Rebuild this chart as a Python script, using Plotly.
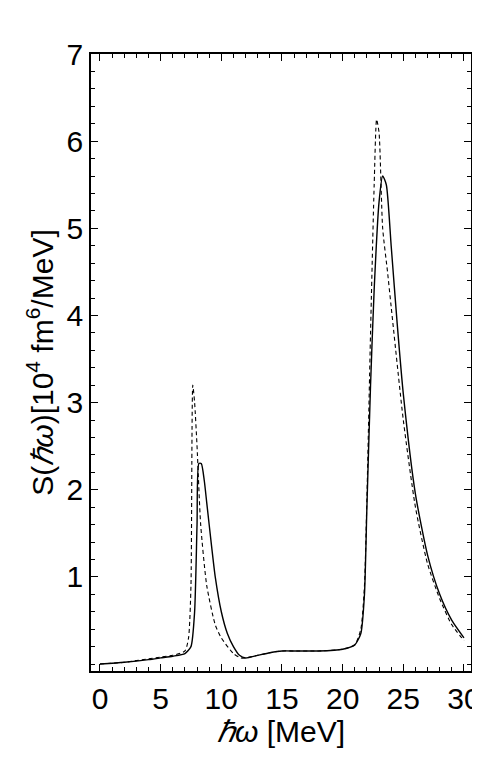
import plotly.graph_objects as go

# solid curve
x_solid = [0, 2, 4, 5, 6, 7, 7.5, 7.8, 8.0, 8.15, 8.35, 8.6, 8.8, 9.2, 9.5, 10, 10.5, 11, 11.5, 12, 13, 14, 15, 16, 18, 20, 21, 21.5, 21.8, 22.0, 22.3, 22.6, 23.0, 23.3, 23.6, 24.0, 24.5, 25, 26, 27, 28, 29, 30]
y_solid = [0, 0.02, 0.05, 0.07, 0.09, 0.12, 0.2, 0.6, 1.6, 2.3, 2.3, 2.1, 1.85, 1.35, 1.0, 0.6, 0.35, 0.2, 0.1, 0.07, 0.1, 0.13, 0.15, 0.15, 0.15, 0.17, 0.22, 0.35, 0.8, 1.8, 3.2, 4.3, 5.3, 5.6, 5.5, 4.8, 3.9, 3.1, 1.95, 1.25, 0.8, 0.5, 0.3]

# dashed curve
x_dash = [0, 2, 4, 5, 6, 7, 7.3, 7.5, 7.65, 7.8, 8.0, 8.3, 8.8, 9.5, 10, 11, 11.6, 12, 13, 14, 15, 16, 18, 20, 21, 21.5, 21.8, 22.0, 22.3, 22.6, 22.8, 23.0, 23.3, 23.7, 24.0, 25, 26, 27, 28, 29, 30]
y_dash = [0, 0.02, 0.06, 0.08, 0.1, 0.15, 0.3, 0.9, 3.2, 3.0, 2.5, 1.6, 0.9, 0.45, 0.3, 0.12, 0.07, 0.07, 0.1, 0.13, 0.15, 0.15, 0.15, 0.17, 0.22, 0.4, 0.9, 1.9, 3.8, 5.5, 6.25, 6.1, 5.0, 4.5, 4.1, 2.8, 1.8, 1.15, 0.75, 0.45, 0.27]

x_ticks = [0, 5, 10, 15, 20, 25, 30]
y_ticks = [1, 2, 3, 4, 5, 6, 7]

fig = go.Figure()
fig.add_trace(go.Scatter(x=x_dash, y=y_dash, mode="lines", line=dict(color="black", width=1.1, dash="4px,3px", shape="spline", smoothing=0.6)))
fig.add_trace(go.Scatter(x=x_solid, y=y_solid, mode="lines", line=dict(color="black", width=1.4, shape="spline", smoothing=0.6)))

axis_common = dict(showgrid=False, zeroline=False, showline=True, linecolor="black", linewidth=1.5, mirror="allticks",
                   ticks="inside", ticklen=7, tickcolor="black", tickfont=dict(size=30, color="black"),
                   automargin=False, minor=dict(ticks="inside", ticklen=4, tickcolor="black"))
fig.update_xaxes(range=[-0.74, 30.58], tickvals=x_ticks, minor_dtick=1,
                 title=dict(text="<i>ℏω</i> [MeV]", font=dict(size=30, color="black"), standoff=4), **axis_common)
fig.update_yaxes(range=[-0.08, 7.0], tickvals=y_ticks, minor_dtick=0.2,
                 title=dict(text="S(<i>ℏω</i>)[10<sup>4</sup> fm<sup>6</sup>/MeV]", font=dict(size=30, color="black"), standoff=4), **axis_common)
fig.update_layout(width=480, height=777, showlegend=False, plot_bgcolor="white", paper_bgcolor="white",
                  font=dict(family="Liberation Sans, Arial, sans-serif"),
                  margin=dict(l=83, r=17, t=46, b=114))
fig.write_html("out.html")
